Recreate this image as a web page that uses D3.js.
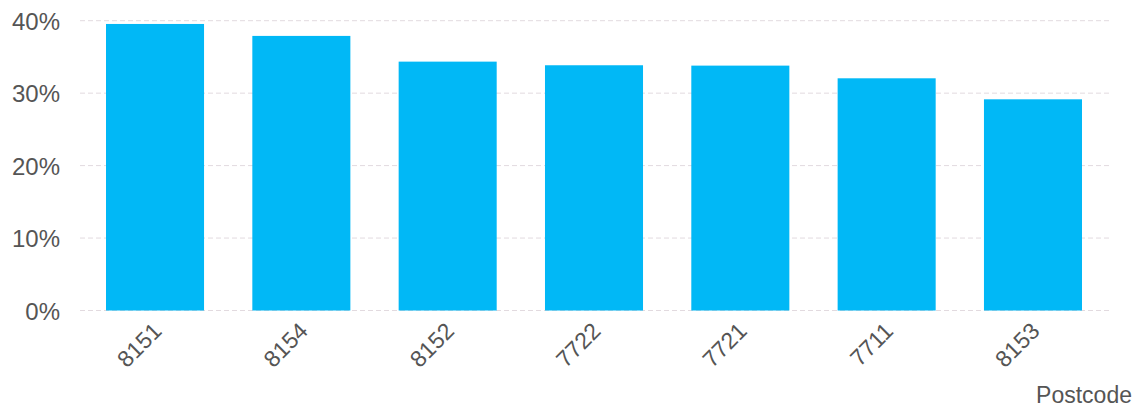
<!DOCTYPE html>
<html>
<head>
<meta charset="utf-8">
<script src="https://cdn.jsdelivr.net/npm/d3@7"></script>
<style>
  html, body { margin: 0; padding: 0; background: #fff; }
  svg { display: block; }
  text { font-family: "Segoe UI", "Liberation Sans", Arial, sans-serif; fill: #555; }
</style>
</head>
<body>
<svg id="chart" width="1137" height="408"></svg>
<script>
const categories = ["8151", "8154", "8152", "7722", "7721", "7711", "8153"];
const values = [0.3955, 0.379, 0.3435, 0.3385, 0.338, 0.3205, 0.2915];
const yTicks = [0, 0.1, 0.2, 0.3, 0.4];
const xTitle = "Postcode";

const svg = d3.select("#chart");
const plotLeft = 80, plotRight = 1110, plotTop = 20.7, plotBottom = 310.5;

const x = d3.scaleBand()
  .domain(categories)
  .range([106, 1082])
  .paddingInner(0.33)
  .paddingOuter(0);

const y = d3.scaleLinear().domain([0, 0.4]).range([plotBottom, plotTop]);

// gridlines
svg.append("g")
  .selectAll("line")
  .data(yTicks)
  .join("line")
  .attr("x1", plotLeft).attr("x2", plotRight)
  .attr("y1", d => y(d)).attr("y2", d => y(d))
  .attr("stroke", "#e2dadf")
  .attr("stroke-width", 1)
  .attr("stroke-dasharray", "5,3");

// y axis labels
const yAxis = d3.axisLeft(y).tickValues(yTicks).tickFormat(d3.format(".0%")).tickSize(0).tickPadding(0);
const ya = svg.append("g").attr("transform", "translate(60,0)").call(yAxis);
ya.select(".domain").remove();
ya.attr("font-family", null).attr("font-size", null);
ya.selectAll("text")
  .attr("font-size", "24px")
  .attr("fill", "#555")
  .attr("dy", "0.36em");

// bars
svg.append("g")
  .selectAll("rect")
  .data(categories.map((c, i) => ({ c, v: values[i] })))
  .join("rect")
  .attr("x", d => x(d.c))
  .attr("width", x.bandwidth())
  .attr("y", d => y(d.v))
  .attr("height", d => y(0) - y(d.v))
  .attr("fill", "#01b8f6");

// x labels
const xAxis = d3.axisBottom(x).tickSize(0).tickPadding(0);
const xa = svg.append("g").attr("transform", `translate(0,${plotBottom})`).call(xAxis);
xa.select(".domain").remove();
xa.attr("font-family", null).attr("font-size", null);
xa.selectAll("text")
  .attr("font-size", "23px")
  .attr("fill", "#555")
  .attr("text-anchor", "end")
  .attr("dy", null)
  .attr("y", null)
  .attr("transform", "translate(8,22) rotate(-45)");

// axis title
svg.append("text")
  .attr("x", 1132)
  .attr("y", 403)
  .attr("text-anchor", "end")
  .attr("font-size", "23px")
  .text(xTitle);
</script>
</body>
</html>
